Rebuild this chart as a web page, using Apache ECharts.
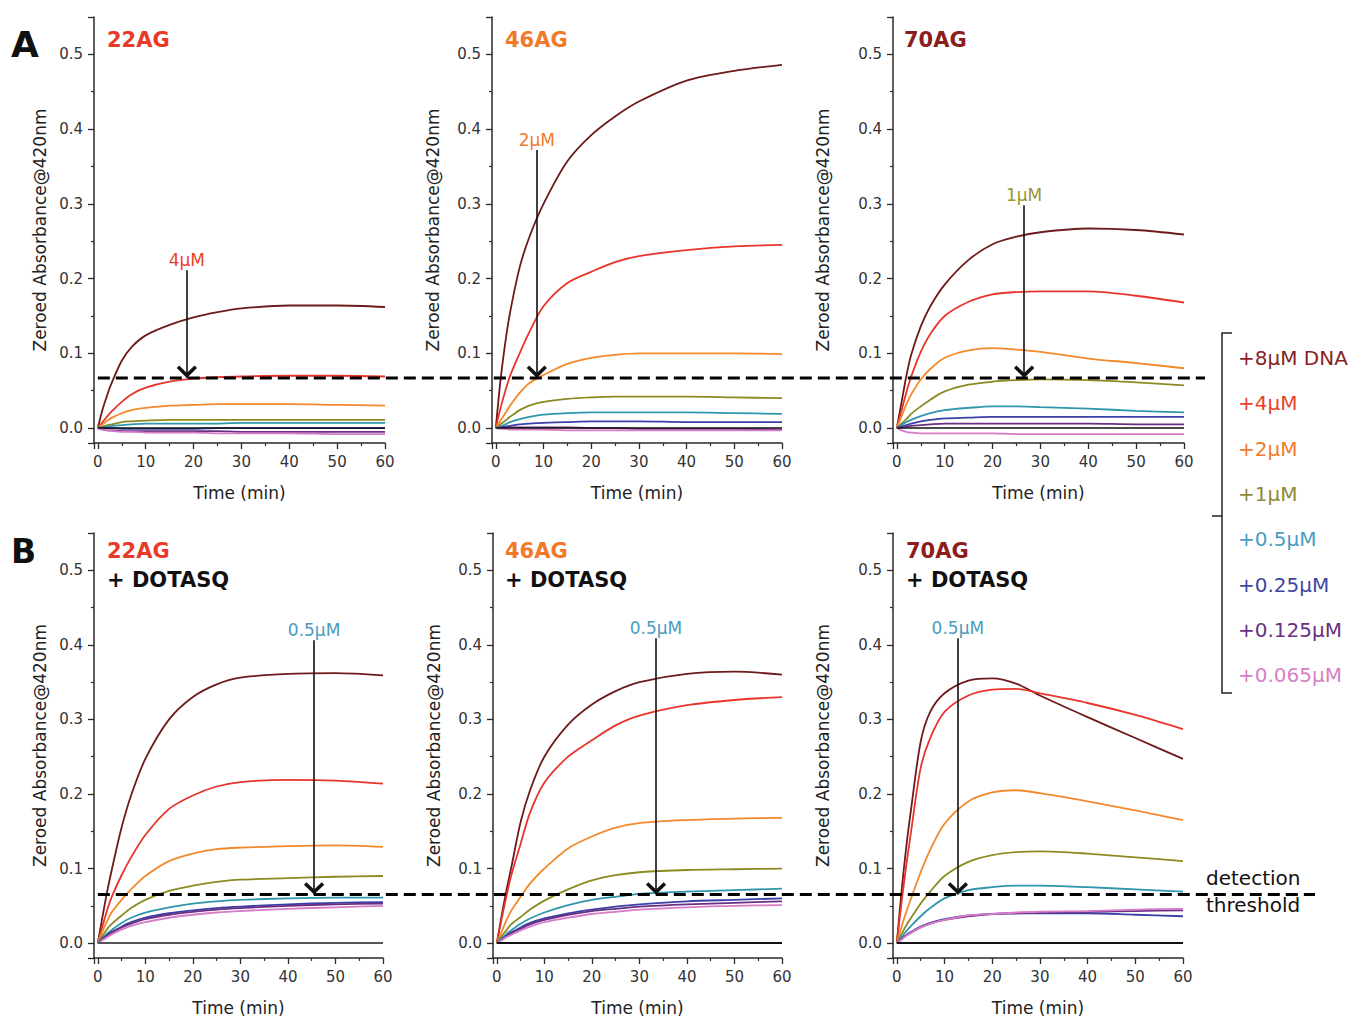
<!DOCTYPE html>
<html><head><meta charset="utf-8">
<script src="https://cdn.jsdelivr.net/npm/echarts@6/dist/echarts.min.js"></script>
<style>html,body{margin:0;padding:0;background:#fff}#c{width:1361px;height:1021px}</style>
</head><body><div id="c"></div>
<script>
// ---------- DATA ----------
const timeMin = [0, 1, 2, 3, 5, 7, 10, 15, 20, 25, 30, 40, 50, 60];
const concentrations = ['+8μM DNA', '+4μM', '+2μM', '+1μM', '+0.5μM', '+0.25μM', '+0.125μM', '+0.065μM'];
const panelNames = ['22AG', '46AG', '70AG', '22AG', '46AG', '70AG'];
const ligandLabel = '+ DOTASQ';
const baseline = [0, 0, 0, 0, 0, 0, 0, 0, 0, 0, 0, 0, 0, 0];

// rows: 8, 4, 2, 1, 0.5, 0.25, 0.125, 0.065 µM
const ag22 = [
  [0, 0.025, 0.045, 0.062, 0.090, 0.108, 0.124, 0.138, 0.148, 0.155, 0.160, 0.164, 0.164, 0.162],
  [0, 0.008, 0.016, 0.023, 0.035, 0.045, 0.054, 0.062, 0.066, 0.068, 0.069, 0.070, 0.070, 0.069],
  [0, 0.005, 0.010, 0.014, 0.020, 0.024, 0.027, 0.030, 0.031, 0.032, 0.032, 0.032, 0.031, 0.030],
  [0, 0.002, 0.004, 0.005, 0.008, 0.009, 0.010, 0.011, 0.011, 0.011, 0.011, 0.011, 0.011, 0.011],
  [0, 0.001, 0.002, 0.003, 0.004, 0.005, 0.006, 0.006, 0.006, 0.006, 0.007, 0.007, 0.007, 0.007],
  [0, 0, 0, 0, -0.001, -0.001, -0.001, -0.001, -0.001, 0, 0, 0, 0, 0],
  [0, -0.002, -0.003, -0.003, -0.004, -0.004, -0.004, -0.004, -0.004, -0.004, -0.005, -0.005, -0.005, -0.005],
  [0, -0.002, -0.003, -0.004, -0.005, -0.005, -0.006, -0.006, -0.006, -0.007, -0.007, -0.007, -0.008, -0.008]
];
const ag46 = [
  [0, 0.065, 0.115, 0.155, 0.215, 0.255, 0.300, 0.357, 0.392, 0.417, 0.437, 0.465, 0.478, 0.486],
  [0, 0.027, 0.050, 0.070, 0.100, 0.128, 0.163, 0.194, 0.209, 0.222, 0.230, 0.238, 0.243, 0.245],
  [0, 0.010, 0.020, 0.030, 0.047, 0.060, 0.071, 0.086, 0.094, 0.098, 0.100, 0.100, 0.100, 0.099],
  [0, 0.005, 0.010, 0.015, 0.024, 0.030, 0.035, 0.039, 0.041, 0.042, 0.042, 0.042, 0.041, 0.040],
  [0, 0.002, 0.005, 0.008, 0.012, 0.015, 0.018, 0.020, 0.021, 0.021, 0.021, 0.021, 0.020, 0.019],
  [0, 0.001, 0.002, 0.003, 0.005, 0.006, 0.007, 0.008, 0.009, 0.009, 0.009, 0.008, 0.008, 0.008],
  [0, 0, 0.001, 0.001, 0.001, 0.001, 0.001, 0.001, 0, 0, -0.001, -0.001, -0.001, -0.002],
  [0, -0.001, -0.001, -0.002, -0.002, -0.002, -0.002, -0.003, -0.003, -0.003, -0.003, -0.003, -0.003, -0.003]
];
const ag70 = [
  [0, 0.035, 0.070, 0.098, 0.136, 0.163, 0.192, 0.225, 0.246, 0.256, 0.262, 0.267, 0.265, 0.259],
  [0, 0.024, 0.048, 0.069, 0.102, 0.126, 0.150, 0.169, 0.179, 0.182, 0.183, 0.183, 0.177, 0.168],
  [0, 0.016, 0.032, 0.045, 0.065, 0.079, 0.094, 0.104, 0.107, 0.105, 0.102, 0.093, 0.087, 0.080],
  [0, 0.006, 0.012, 0.019, 0.029, 0.038, 0.049, 0.058, 0.062, 0.064, 0.065, 0.064, 0.061, 0.057],
  [0, 0.004, 0.008, 0.011, 0.016, 0.020, 0.024, 0.027, 0.029, 0.029, 0.028, 0.026, 0.023, 0.021],
  [0, 0.002, 0.004, 0.006, 0.009, 0.011, 0.013, 0.014, 0.015, 0.015, 0.015, 0.015, 0.015, 0.015],
  [0, 0.001, 0.002, 0.003, 0.004, 0.005, 0.006, 0.006, 0.006, 0.006, 0.006, 0.006, 0.005, 0.005],
  [0, -0.003, -0.005, -0.006, -0.007, -0.007, -0.007, -0.007, -0.007, -0.008, -0.008, -0.008, -0.008, -0.008]
];
const ag22Dotasq = [
  [0, 0.036, 0.070, 0.100, 0.155, 0.198, 0.247, 0.300, 0.330, 0.347, 0.356, 0.361, 0.362, 0.359],
  [0, 0.023, 0.045, 0.063, 0.091, 0.115, 0.145, 0.180, 0.198, 0.210, 0.216, 0.219, 0.218, 0.214],
  [0, 0.016, 0.030, 0.042, 0.058, 0.072, 0.090, 0.110, 0.120, 0.126, 0.128, 0.130, 0.131, 0.129],
  [0, 0.010, 0.019, 0.026, 0.037, 0.047, 0.058, 0.070, 0.077, 0.082, 0.085, 0.087, 0.089, 0.090],
  [0, 0.007, 0.013, 0.018, 0.027, 0.034, 0.041, 0.048, 0.053, 0.056, 0.058, 0.060, 0.061, 0.061],
  [0, 0.006, 0.011, 0.015, 0.022, 0.028, 0.034, 0.040, 0.044, 0.047, 0.049, 0.052, 0.054, 0.055],
  [0, 0.005, 0.010, 0.014, 0.021, 0.026, 0.032, 0.038, 0.042, 0.045, 0.047, 0.050, 0.052, 0.053],
  [0, 0.004, 0.008, 0.012, 0.018, 0.023, 0.028, 0.034, 0.038, 0.041, 0.043, 0.046, 0.048, 0.050]
];
const ag46Dotasq = [
  [0, 0.036, 0.070, 0.100, 0.162, 0.205, 0.250, 0.293, 0.320, 0.338, 0.350, 0.361, 0.364, 0.360],
  [0, 0.032, 0.062, 0.090, 0.133, 0.175, 0.215, 0.250, 0.272, 0.292, 0.305, 0.319, 0.326, 0.330],
  [0, 0.015, 0.030, 0.043, 0.062, 0.080, 0.100, 0.127, 0.143, 0.155, 0.161, 0.165, 0.167, 0.168],
  [0, 0.009, 0.017, 0.025, 0.035, 0.045, 0.057, 0.072, 0.084, 0.091, 0.095, 0.098, 0.099, 0.100],
  [0, 0.006, 0.012, 0.017, 0.026, 0.033, 0.041, 0.051, 0.058, 0.062, 0.066, 0.069, 0.071, 0.073],
  [0, 0.005, 0.010, 0.014, 0.021, 0.027, 0.033, 0.040, 0.045, 0.049, 0.052, 0.056, 0.058, 0.060],
  [0, 0.004, 0.009, 0.013, 0.019, 0.025, 0.031, 0.038, 0.043, 0.046, 0.049, 0.052, 0.054, 0.056],
  [0, 0.004, 0.008, 0.011, 0.017, 0.022, 0.028, 0.034, 0.039, 0.042, 0.045, 0.048, 0.050, 0.051]
];
const ag70Dotasq = [
  [0, 0.070, 0.130, 0.180, 0.270, 0.310, 0.335, 0.352, 0.355, 0.348, 0.332, 0.303, 0.275, 0.247],
  [0, 0.055, 0.105, 0.150, 0.235, 0.275, 0.310, 0.332, 0.340, 0.341, 0.335, 0.322, 0.306, 0.287],
  [0, 0.022, 0.042, 0.060, 0.095, 0.125, 0.160, 0.190, 0.202, 0.205, 0.201, 0.190, 0.178, 0.165],
  [0, 0.012, 0.024, 0.034, 0.053, 0.069, 0.090, 0.109, 0.118, 0.122, 0.123, 0.120, 0.115, 0.110],
  [0, 0.008, 0.016, 0.023, 0.036, 0.047, 0.060, 0.071, 0.075, 0.077, 0.077, 0.075, 0.072, 0.069],
  [0, 0.006, 0.011, 0.015, 0.022, 0.027, 0.032, 0.037, 0.039, 0.040, 0.040, 0.040, 0.038, 0.036],
  [0, 0.005, 0.010, 0.014, 0.021, 0.026, 0.031, 0.036, 0.039, 0.040, 0.041, 0.042, 0.043, 0.044],
  [0, 0.005, 0.010, 0.014, 0.021, 0.026, 0.031, 0.037, 0.039, 0.041, 0.042, 0.043, 0.045, 0.046]
];

const thresholdA = 0.067;
const thresholdB = 0.065;
const arrowTime = [18.6, 8.6, 26.6, 45.5, 33.5, 12.8];
const arrowTop = [0.211, 0.372, 0.298, 0.406, 0.409, 0.409];
const arrowLabels = ['4μM', '2μM', '1μM', '0.5μM', '0.5μM', '0.5μM'];

// ---------- STYLE / LAYOUT ----------
const FONT = "'DejaVu Sans', 'Liberation Sans', sans-serif";
const lineColors = ['#6e1a1a', '#e8352b', '#f28a2c', '#8c8a22', '#2f96ab', '#3b40a8', '#6a2e82', '#d57bc8'];
const legendTextColors = ['#8a1e1e', '#e8432a', '#f07b2a', '#8f8a35', '#4a9cc0', '#4046a0', '#6a3080', '#d67fc6'];
const titleColors = ['#e8392b', '#f0792a', '#8c1d1d', '#e8392b', '#f0792a', '#8c1d1d'];
const arrowLabelColors = ['#e8432a', '#f07b2a', '#9a9430', '#4a9cc0', '#4a9cc0', '#4a9cc0'];
const gridBoxes = [
  { left: 94, top: 17, width: 291, height: 426 },
  { left: 492, top: 17, width: 290, height: 426 },
  { left: 893, top: 17, width: 291, height: 426 },
  { left: 94, top: 533, width: 289, height: 425 },
  { left: 493, top: 533, width: 289, height: 425 },
  { left: 893, top: 533, width: 290, height: 425 }
];
const yNameGaps = [46, 51, 62, 46, 51, 62];
const titleLefts = [107, 505, 904, 107, 505, 906];
const panels = [ag22, ag46, ag70, ag22Dotasq, ag46Dotasq, ag70Dotasq];
const chevron = 'path://M0,0L0,0M20,20L20,20M10,10L17.8,17.6L15.9,19.6L10,13.9L4.1,19.6L2.2,17.6Z';

const axisLine = { onZero: false, lineStyle: { color: '#2a2a2a', width: 1.5 } };

const xAxes = gridBoxes.map((g, i) => ({
  gridIndex: i, type: 'value', min: -0.8, max: 60,
  axisLine: axisLine,
  axisTick: { length: 6, lineStyle: { color: '#2a2a2a', width: 1.3 } },
  minorTick: { show: true, splitNumber: 2, length: 3, lineStyle: { color: '#2a2a2a', width: 1.2 } },
  splitLine: { show: false }, minorSplitLine: { show: false },
  axisLabel: { showMinLabel: false, color: '#333', fontSize: 15, margin: 11, fontFamily: FONT },
  name: 'Time (min)', nameLocation: 'middle', nameGap: 41,
  nameTextStyle: { fontSize: 17, color: '#222', fontFamily: FONT }
}));
const yAxes = gridBoxes.map((g, i) => ({
  gridIndex: i, type: 'value', min: -0.02, max: 0.55, splitNumber: 5,
  axisLine: axisLine,
  axisTick: { length: 6, lineStyle: { color: '#2a2a2a', width: 1.3 } },
  minorTick: { show: true, splitNumber: 2, length: 3, lineStyle: { color: '#2a2a2a', width: 1.2 } },
  splitLine: { show: false }, minorSplitLine: { show: false },
  axisLabel: { showMinLabel: false, showMaxLabel: false, color: '#333', fontSize: 15, margin: 11, fontFamily: FONT,
    formatter: v => v.toFixed(1) },
  name: 'Zeroed Absorbance@420nm', nameLocation: 'middle', nameGap: yNameGaps[i],
  nameTextStyle: { fontSize: 17, color: '#222', fontFamily: FONT }
}));

const series = [];
panels.forEach((rows, g) => {
  rows.forEach((vals, i) => {
    series.push({
      type: 'line', name: concentrations[i], xAxisIndex: g, yAxisIndex: g,
      data: timeMin.map((t, k) => [t, vals[k]]),
      showSymbol: false, smooth: 0.3, silent: true,
      lineStyle: { width: 1.8, color: lineColors[i] }, itemStyle: { color: lineColors[i] }
    });
  });
  const thr = g < 3 ? thresholdA : thresholdB;
  series.push({
    type: 'line', name: 'control', xAxisIndex: g, yAxisIndex: g,
    data: timeMin.map((t, k) => [t, baseline[k]]),
    showSymbol: false, silent: true, z: 3,
    lineStyle: { width: g < 3 ? 1.4 : 2, color: g === 3 ? '#555' : '#111' },
    markLine: {
      silent: true, animation: false,
      symbol: ['none', chevron], symbolSize: 26,
      lineStyle: { color: '#111', width: 1.6, type: 'solid' },
      label: { show: true, position: 'start', formatter: arrowLabels[g], color: arrowLabelColors[g], fontSize: 17, fontFamily: FONT, distance: 2 },
      data: [[{ coord: [arrowTime[g], arrowTop[g]] }, { coord: [arrowTime[g], thr] }]]
    }
  });
});

const titles = [
  { text: 'A', left: 11, top: 26, textStyle: { fontSize: 36, fontWeight: 'bold', color: '#111', fontFamily: FONT } },
  { text: 'B', left: 11, top: 535, textStyle: { fontSize: 33, fontWeight: 'bold', color: '#111', fontFamily: FONT } },
  { text: 'detection', left: 1206, top: 868, textStyle: { fontSize: 20, fontWeight: 'normal', color: '#111', fontFamily: FONT } },
  { text: 'threshold', left: 1206, top: 895, textStyle: { fontSize: 20, fontWeight: 'normal', color: '#111', fontFamily: FONT } }
];
panelNames.forEach((n, i) => {
  titles.push({ text: n, left: titleLefts[i], top: i < 3 ? 29 : 540,
    textStyle: { fontSize: 21, fontWeight: 'bold', color: titleColors[i], fontFamily: FONT } });
  if (i >= 3) titles.push({ text: ligandLabel, left: titleLefts[i], top: 569,
    textStyle: { fontSize: 21, fontWeight: 'bold', color: '#111', fontFamily: FONT } });
});
titles.forEach(t => { t.padding = 0; });

const option = {
  animation: false,
  backgroundColor: '#ffffff',
  title: titles,
  grid: gridBoxes.map(g => Object.assign({ containLabel: false }, g)),
  xAxis: xAxes,
  yAxis: yAxes,
  legend: {
    orient: 'vertical', left: 1233, top: 348, icon: 'none', itemWidth: 0, itemHeight: 20, itemGap: 25.3,
    selectedMode: false, padding: 0,
    textStyle: { fontSize: 20, fontFamily: FONT },
    data: concentrations.map((n, i) => ({ name: n, textStyle: { color: legendTextColors[i] } }))
  },
  series: series
};

const chart = echarts.init(document.getElementById('c'), null, { renderer: 'svg' });
chart.setOption(option);

const pA = chart.convertToPixel({ gridIndex: 0 }, [0, thresholdA]);
const pB = chart.convertToPixel({ gridIndex: 3 }, [0, thresholdB]);
const dashStyle = { stroke: '#000', lineWidth: 3, lineDash: [12, 6] };
chart.setOption({
  graphic: [
    { type: 'line', z: 100, silent: true, shape: { x1: pA[0], y1: pA[1], x2: 1205, y2: pA[1] }, style: dashStyle },
    { type: 'line', z: 100, silent: true, shape: { x1: pB[0], y1: pB[1], x2: 1315, y2: pB[1] }, style: dashStyle },
    { type: 'polyline', z: 100, silent: true, shape: { points: [[1232, 333], [1222, 333], [1222, 693], [1232, 693]] }, style: { stroke: '#222', lineWidth: 1.5, fill: null } },
    { type: 'line', z: 100, silent: true, shape: { x1: 1222, y1: 516, x2: 1212, y2: 516 }, style: { stroke: '#222', lineWidth: 1.5 } }
  ]
});
</script>
</body></html>
